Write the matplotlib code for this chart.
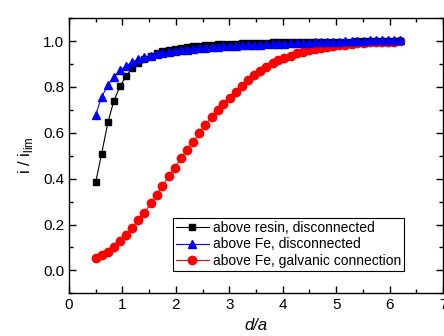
import matplotlib.pyplot as plt
from matplotlib.ticker import MultipleLocator

plt.rcParams['font.family'] = ['Liberation Sans', 'DejaVu Sans']

# distance d/a
d = [0.50, 0.61, 0.73, 0.84, 0.96, 1.07, 1.18, 1.30, 1.41, 1.53,
     1.64, 1.75, 1.87, 1.98, 2.10, 2.21, 2.32, 2.44, 2.55, 2.67,
     2.78, 2.89, 3.01, 3.12, 3.24, 3.35, 3.46, 3.58, 3.69, 3.81,
     3.92, 4.03, 4.15, 4.26, 4.38, 4.49, 4.60, 4.72, 4.83, 4.95,
     5.06, 5.17, 5.29, 5.40, 5.52, 5.63, 5.74, 5.86, 5.97, 6.09, 6.20]

# above resin, disconnected
resin = [0.385, 0.508, 0.647, 0.740, 0.804, 0.849, 0.881, 0.905, 0.923, 0.937,
         0.947, 0.955, 0.961, 0.966, 0.970, 0.974, 0.977, 0.980, 0.982, 0.984,
         0.986, 0.987, 0.988, 0.989, 0.990, 0.991, 0.992, 0.993, 0.993, 0.994,
         0.994, 0.995, 0.995, 0.996, 0.996, 0.996, 0.997, 0.997, 0.997, 0.998,
         0.998, 0.998, 0.998, 0.999, 0.999, 0.999, 0.999, 0.999, 1.000, 1.000, 1.000]

# above Fe, disconnected
fe_disc = [0.678, 0.757, 0.808, 0.845, 0.872, 0.893, 0.908, 0.920, 0.929, 0.937,
           0.943, 0.948, 0.953, 0.957, 0.960, 0.963, 0.966, 0.969, 0.971, 0.973,
           0.975, 0.977, 0.979, 0.980, 0.982, 0.983, 0.984, 0.985, 0.986, 0.987,
           0.988, 0.989, 0.990, 0.991, 0.992, 0.993, 0.994, 0.995, 0.996, 0.997,
           0.998, 0.999, 1.000, 1.001, 1.002, 1.003, 1.004, 1.004, 1.005, 1.005, 1.006]

# above Fe, galvanic connection
fe_galv = [0.056, 0.065, 0.079, 0.100, 0.127, 0.155, 0.185, 0.220, 0.252, 0.292,
           0.330, 0.370, 0.410, 0.448, 0.490, 0.527, 0.560, 0.600, 0.635, 0.668,
           0.698, 0.727, 0.752, 0.777, 0.805, 0.830, 0.852, 0.870, 0.888, 0.903,
           0.917, 0.927, 0.937, 0.946, 0.954, 0.960, 0.966, 0.971, 0.975, 0.979,
           0.982, 0.985, 0.988, 0.990, 0.992, 0.994, 0.995, 0.996, 0.997, 0.998, 0.999]

fig = plt.figure(figsize=(4.44, 3.36), dpi=100)
ax = fig.add_axes([0.1554, 0.127, 0.8423, 0.819])

ax.plot(d, resin, '-s', color='black', lw=0.8, ms=5, zorder=3,
        label='above resin, disconnected')
ax.plot(d, fe_disc, '-^', color='blue', lw=0.8, ms=5.5, zorder=4,
        label='above Fe, disconnected')
ax.plot(d, fe_galv, '-o', color='red', lw=0.8, ms=6, zorder=2,
        label='above Fe, galvanic connection')

ax.set_xlim(0, 7)
ax.set_ylim(-0.1, 1.1)
ax.xaxis.set_major_locator(MultipleLocator(1))
ax.xaxis.set_minor_locator(MultipleLocator(0.5))
ax.yaxis.set_major_locator(MultipleLocator(0.2))
ax.yaxis.set_minor_locator(MultipleLocator(0.1))
ax.tick_params(which='both', direction='in', top=True, right=True,
               labelsize=11, width=1)
ax.tick_params(which='major', length=5)
ax.tick_params(which='minor', length=3)
for s in ax.spines.values():
    s.set_linewidth(1)

ax.set_xlabel('d/a', fontsize=12, style='italic', labelpad=4)
ax.set_ylabel(r'i / i$_{\mathregular{lim}}$', fontsize=12, labelpad=6)

leg = ax.legend(loc='lower right', bbox_to_anchor=(0.896, 0.081),
                borderaxespad=0, fontsize=10, fancybox=False,
                framealpha=1, edgecolor='black', handlelength=2.4,
                handletextpad=0.3, borderpad=0.2, labelspacing=0.2)
leg.get_frame().set_linewidth(0.8)

fig.savefig('out.png', dpi=100)
